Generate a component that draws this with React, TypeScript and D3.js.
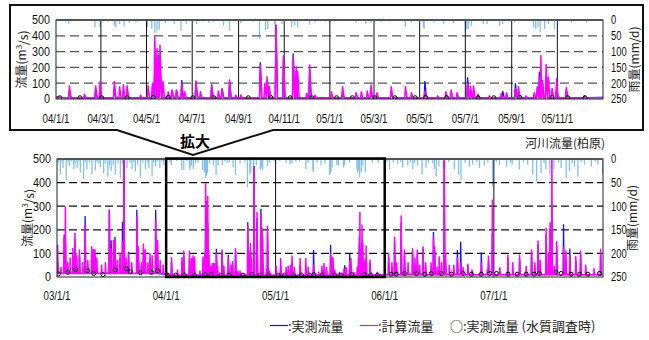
import React, { useEffect, useRef } from 'react';
import * as d3 from 'd3';

// 河川流量(柏原) 2003-2007, daily peaks
const years = [2003, 2004, 2005, 2006, 2007];
const baseFlow = [15, 7, 7, 10, 10];

const measuredFlow: [string, number][] = [
  ["2003-01-03", 60], ["2003-01-25", 180], ["2003-01-29", 150], ["2003-02-23", 90], ["2003-03-02", 160], ["2003-03-17", 100],
  ["2003-04-05", 258], ["2003-04-27", 110], ["2003-05-08", 100], ["2003-06-25", 285], ["2003-07-01", 156], ["2003-07-14", 170],
  ["2003-07-31", 80], ["2003-08-08", 234], ["2003-08-13", 510], ["2003-08-28", 107], ["2003-09-25", 285], ["2003-09-30", 110],
  ["2003-10-17", 100], ["2003-11-08", 80], ["2003-11-27", 285], ["2003-12-03", 140],
  ["2004-01-19", 60], ["2004-02-23", 67], ["2004-02-29", 90], ["2004-03-19", 80], ["2004-05-09", 90], ["2004-05-12", 215],
  ["2004-05-15", 257], ["2004-05-17", 280], ["2004-05-19", 230], ["2004-06-04", 57], ["2004-06-10", 57], ["2004-06-17", 120],
  ["2004-07-06", 110], ["2004-07-27", 93], ["2004-08-10", 67], ["2004-08-20", 110], ["2004-09-30", 232], ["2004-10-09", 120],
  ["2004-10-21", 470], ["2004-10-31", 250], ["2004-11-13", 288], ["2004-11-17", 180], ["2004-12-05", 190],
  ["2005-01-18", 50], ["2005-02-25", 60], ["2005-03-24", 50], ["2005-05-08", 114], ["2005-07-04", 137], ["2005-07-08", 60],
  ["2005-08-20", 50], ["2005-09-06", 100], ["2005-09-10", 50], ["2005-10-05", 50], ["2005-10-08", 172], ["2005-10-10", 120],
  ["2005-10-12", 120], ["2005-10-17", 150], ["2005-10-31", 80], ["2005-11-13", 60],
  ["2006-01-14", 80], ["2006-02-03", 150], ["2006-02-25", 230], ["2006-03-08", 100], ["2006-04-04", 110], ["2006-04-20", 100],
  ["2006-05-09", 120], ["2006-06-13", 191], ["2006-06-17", 110], ["2006-07-19", 491], ["2006-07-23", 90], ["2006-09-01", 114],
  ["2006-09-12", 149], ["2006-10-06", 50], ["2006-11-20", 104], ["2006-12-14", 70], ["2006-12-27", 185],
  ["2007-02-17", 80], ["2007-03-28", 80], ["2007-05-07", 100], ["2007-05-29", 140], ["2007-06-25", 180], ["2007-07-08", 200],
  ["2007-07-14", 300], ["2007-07-30", 130], ["2007-08-22", 224], ["2007-09-12", 121], ["2007-10-02", 70], ["2007-10-18", 95],
  ["2007-12-24", 100],
];

const calculatedFlow: [string, number][] = [
  ["2003-01-03", 135], ["2003-01-14", 40], ["2003-01-25", 165], ["2003-01-29", 297], ["2003-02-06", 60], ["2003-02-14", 80],
  ["2003-02-23", 121], ["2003-03-02", 185], ["2003-03-08", 90], ["2003-03-17", 114], ["2003-03-28", 60], ["2003-04-05", 220],
  ["2003-04-14", 70], ["2003-04-27", 128], ["2003-05-03", 117], ["2003-05-08", 115], ["2003-05-14", 80], ["2003-05-30", 50],
  ["2003-06-12", 60], ["2003-06-25", 283], ["2003-07-01", 120], ["2003-07-09", 156], ["2003-07-14", 150], ["2003-07-22", 70],
  ["2003-07-31", 100], ["2003-08-08", 150], ["2003-08-13", 505], ["2003-08-20", 80], ["2003-08-28", 100], ["2003-09-08", 60],
  ["2003-09-25", 255], ["2003-09-30", 128], ["2003-10-10", 60], ["2003-10-17", 139], ["2003-10-23", 115], ["2003-11-01", 60],
  ["2003-11-08", 100], ["2003-11-15", 90], ["2003-11-27", 240], ["2003-12-03", 156], ["2003-12-12", 70], ["2003-12-22", 50],
  ["2004-01-19", 82], ["2004-02-08", 30], ["2004-02-23", 82], ["2004-02-29", 110], ["2004-03-19", 110], ["2004-03-26", 78],
  ["2004-03-31", 90], ["2004-04-05", 84], ["2004-04-23", 25], ["2004-05-03", 84], ["2004-05-09", 100], ["2004-05-12", 394],
  ["2004-05-15", 320], ["2004-05-17", 257], ["2004-05-19", 341], ["2004-05-23", 110], ["2004-05-30", 46], ["2004-06-04", 57],
  ["2004-06-10", 57], ["2004-06-17", 100], ["2004-06-21", 46], ["2004-07-06", 114], ["2004-07-12", 46], ["2004-07-27", 80],
  ["2004-08-05", 50], ["2004-08-10", 60], ["2004-08-20", 120], ["2004-08-28", 25], ["2004-09-04", 25], ["2004-09-30", 215],
  ["2004-10-06", 100], ["2004-10-09", 141], ["2004-10-12", 80], ["2004-10-21", 467], ["2004-10-31", 274], ["2004-11-13", 267],
  ["2004-11-17", 204], ["2004-11-19", 172], ["2004-12-01", 35], ["2004-12-05", 215], ["2004-12-12", 25],
  ["2005-01-03", 46], ["2005-01-18", 78], ["2005-02-05", 40], ["2005-02-12", 46], ["2005-02-20", 50], ["2005-02-25", 88],
  ["2005-03-05", 40], ["2005-03-24", 78], ["2005-04-12", 78], ["2005-04-20", 40], ["2005-05-08", 50], ["2005-05-25", 20],
  ["2005-06-05", 46], ["2005-06-12", 57], ["2005-06-20", 40], ["2005-07-04", 100], ["2005-07-08", 80], ["2005-07-12", 82],
  ["2005-07-18", 30], ["2005-08-02", 20], ["2005-08-18", 34], ["2005-08-25", 40], ["2005-09-06", 67], ["2005-09-10", 78],
  ["2005-09-20", 20], ["2005-10-01", 40], ["2005-10-05", 78], ["2005-10-08", 140], ["2005-10-10", 274], ["2005-10-12", 110],
  ["2005-10-17", 219], ["2005-10-20", 140], ["2005-10-25", 67], ["2005-10-31", 130], ["2005-11-13", 72], ["2005-12-07", 20],
  ["2006-01-14", 100], ["2006-01-25", 60], ["2006-02-03", 168], ["2006-02-10", 60], ["2006-02-25", 258], ["2006-03-08", 114],
  ["2006-03-20", 60], ["2006-04-04", 120], ["2006-04-12", 80], ["2006-04-20", 114], ["2006-04-28", 50], ["2006-05-09", 128],
  ["2006-05-18", 60], ["2006-06-05", 60], ["2006-06-13", 170], ["2006-06-17", 128], ["2006-06-25", 40], ["2006-07-02", 86],
  ["2006-07-10", 60], ["2006-07-19", 494], ["2006-07-23", 100], ["2006-08-05", 50], ["2006-08-20", 50], ["2006-09-01", 80],
  ["2006-09-12", 60], ["2006-09-20", 40], ["2006-10-06", 54], ["2006-10-20", 30], ["2006-11-20", 60], ["2006-12-10", 30],
  ["2006-12-14", 88], ["2006-12-27", 325],
  ["2007-01-21", 40], ["2007-02-17", 93], ["2007-03-05", 60], ["2007-03-28", 93], ["2007-04-19", 45], ["2007-05-07", 114],
  ["2007-05-18", 60], ["2007-05-29", 153], ["2007-06-05", 70], ["2007-06-25", 206], ["2007-07-03", 100], ["2007-07-08", 230],
  ["2007-07-14", 505], ["2007-07-22", 44], ["2007-07-30", 149], ["2007-08-22", 125], ["2007-08-30", 110], ["2007-09-12", 90],
  ["2007-10-02", 86], ["2007-10-18", 110], ["2007-11-04", 50], ["2007-12-02", 35], ["2007-12-24", 118],
];

// 実測流量 (水質調査時)
const surveyFlow: [string, number][] = [
  ["2003-01-06", 13], ["2003-02-06", 20], ["2003-03-03", 32], ["2003-04-14", 27], ["2003-05-04", 15], ["2003-06-04", 10],
  ["2003-07-15", 30], ["2003-08-21", 36], ["2003-09-03", 22], ["2003-10-07", 18], ["2003-11-13", 20], ["2003-12-04", 27],
  ["2004-01-06", 8], ["2004-02-02", 8], ["2004-03-02", 8], ["2004-04-05", 8], ["2004-05-10", 10], ["2004-05-30", 10],
  ["2004-07-02", 8], ["2004-07-30", 8], ["2004-09-14", 8], ["2004-10-14", 10], ["2004-11-09", 8], ["2004-12-08", 8],
  ["2005-01-10", 8], ["2005-01-31", 8], ["2005-03-02", 8], ["2005-03-29", 8], ["2005-04-25", 8], ["2005-05-09", 10],
  ["2005-06-06", 8], ["2005-07-18", 8], ["2005-08-08", 8], ["2005-09-12", 10], ["2005-10-25", 10], ["2005-11-15", 8],
  ["2005-12-08", 8],
  ["2006-01-23", 12], ["2006-02-09", 12], ["2006-03-09", 15], ["2006-04-17", 15], ["2006-05-15", 12], ["2006-06-06", 15],
  ["2006-07-09", 15], ["2006-08-12", 12], ["2006-09-20", 15], ["2006-10-18", 12], ["2006-11-20", 12], ["2006-12-18", 15],
  ["2007-01-10", 15], ["2007-02-17", 12], ["2007-03-20", 12], ["2007-04-19", 12], ["2007-05-16", 12], ["2007-06-02", 15],
  ["2007-07-28", 20], ["2007-08-14", 15], ["2007-09-16", 12], ["2007-10-14", 12], ["2007-11-11", 12], ["2007-12-20", 15],
];

// 雨量 mm/d
const rainfall: [string, number][] = [
  ["2003-01-05", 8], ["2003-01-12", 33], ["2003-01-17", 5], ["2003-01-21", 19], ["2003-02-01", 45], ["2003-02-07", 6],
  ["2003-02-12", 15], ["2003-02-19", 5], ["2003-02-26", 22], ["2003-03-02", 10], ["2003-03-09", 19], ["2003-03-14", 6],
  ["2003-03-20", 28], ["2003-03-31", 42], ["2003-04-05", 7], ["2003-04-11", 22], ["2003-04-20", 8], ["2003-04-28", 33],
  ["2003-05-09", 24], ["2003-05-15", 6], ["2003-05-21", 9], ["2003-05-26", 17], ["2003-06-06", 30], ["2003-06-12", 10],
  ["2003-06-20", 37], ["2003-06-25", 14], ["2003-07-01", 26], ["2003-07-08", 12], ["2003-07-15", 33], ["2003-07-24", 9],
  ["2003-08-01", 40], ["2003-08-08", 10], ["2003-08-14", 30], ["2003-08-23", 19], ["2003-09-02", 8], ["2003-09-09", 22],
  ["2003-09-15", 6], ["2003-09-20", 26], ["2003-09-28", 12], ["2003-10-07", 40], ["2003-10-15", 8], ["2003-10-24", 22],
  ["2003-10-30", 6], ["2003-11-04", 19], ["2003-11-15", 37], ["2003-11-20", 7], ["2003-11-26", 15], ["2003-12-02", 6],
  ["2003-12-11", 19], ["2003-12-18", 5], ["2003-12-24", 12],
  ["2004-01-14", 7], ["2004-01-18", 13], ["2004-02-05", 4], ["2004-02-22", 23], ["2004-02-29", 23], ["2004-03-10", 5],
  ["2004-03-19", 18], ["2004-03-21", 23], ["2004-03-26", 13], ["2004-04-01", 21], ["2004-04-08", 10], ["2004-04-17", 8],
  ["2004-05-02", 23], ["2004-05-08", 28], ["2004-05-12", 40], ["2004-05-15", 35], ["2004-05-18", 30], ["2004-05-26", 10],
  ["2004-06-07", 13], ["2004-06-16", 34], ["2004-06-23", 13], ["2004-07-07", 13], ["2004-07-15", 5], ["2004-07-23", 8],
  ["2004-07-30", 7], ["2004-08-12", 18], ["2004-08-20", 34], ["2004-09-04", 10], ["2004-09-20", 6], ["2004-09-29", 60],
  ["2004-10-07", 32], ["2004-10-10", 28], ["2004-10-19", 13], ["2004-10-20", 45], ["2004-10-29", 13], ["2004-11-11", 23],
  ["2004-11-15", 18], ["2004-11-19", 23], ["2004-12-05", 15], ["2004-12-12", 8], ["2004-12-27", 5],
  ["2005-01-01", 8], ["2005-01-15", 4], ["2005-02-05", 8], ["2005-02-18", 12], ["2005-02-25", 10], ["2005-03-10", 6],
  ["2005-03-22", 5], ["2005-04-12", 21], ["2005-04-20", 8], ["2005-05-06", 23], ["2005-05-07", 28], ["2005-05-20", 8],
  ["2005-06-02", 13], ["2005-06-15", 10], ["2005-07-01", 34], ["2005-07-03", 30], ["2005-07-05", 28], ["2005-07-09", 18],
  ["2005-07-25", 13], ["2005-07-30", 13], ["2005-08-16", 18], ["2005-08-20", 13], ["2005-09-05", 8], ["2005-09-30", 23],
  ["2005-10-03", 28], ["2005-10-06", 23], ["2005-10-09", 39], ["2005-10-15", 28], ["2005-10-20", 13], ["2005-10-28", 28],
  ["2005-11-20", 8], ["2005-12-10", 8],
  ["2006-01-08", 6], ["2006-01-17", 22], ["2006-01-30", 8], ["2006-02-13", 10], ["2006-02-24", 6], ["2006-03-02", 18],
  ["2006-03-19", 14], ["2006-03-28", 7], ["2006-04-05", 22], ["2006-04-11", 9], ["2006-04-21", 14], ["2006-05-06", 33],
  ["2006-05-19", 18], ["2006-05-27", 8], ["2006-06-10", 9], ["2006-06-16", 21], ["2006-06-22", 37], ["2006-07-01", 16],
  ["2006-07-16", 19], ["2006-07-21", 22], ["2006-08-03", 7], ["2006-08-22", 22], ["2006-09-05", 33], ["2006-09-13", 44],
  ["2006-09-27", 8], ["2006-10-11", 16], ["2006-10-22", 12], ["2006-11-05", 7], ["2006-11-14", 19], ["2006-11-30", 14],
  ["2006-12-12", 8], ["2006-12-28", 58],
  ["2007-01-09", 6], ["2007-01-20", 12], ["2007-02-13", 16], ["2007-02-25", 8], ["2007-03-03", 12], ["2007-03-27", 22],
  ["2007-04-10", 7], ["2007-04-24", 12], ["2007-05-11", 33], ["2007-05-24", 47], ["2007-06-08", 30], ["2007-06-18", 9],
  ["2007-06-24", 22], ["2007-07-07", 33], ["2007-07-13", 20], ["2007-07-21", 22], ["2007-08-05", 8], ["2007-08-14", 19],
  ["2007-08-31", 40], ["2007-09-11", 26], ["2007-09-20", 8], ["2007-09-28", 16], ["2007-10-09", 37], ["2007-10-20", 7],
  ["2007-10-31", 12], ["2007-11-23", 16], ["2007-12-06", 6], ["2007-12-15", 12], ["2007-12-31", 33],
];

const flowTicks = [0, 100, 200, 300, 400, 500];
const rainTicks = [0, 50, 100, 150, 200, 250];

const FONT_NUM = "'Liberation Sans', Arial, sans-serif";
const FONT_JP = "'Noto Sans CJK JP', sans-serif";
const BLUE = '#1010ff';
const MAGENTA = '#ff00ff';
const RAIN = '#84bff2';

const parse = d3.timeParse('%Y-%m-%d');

function baseAt(t: Date) {
  const i = years.indexOf(t.getFullYear());
  return baseFlow[i < 0 ? baseFlow.length - 1 : i];
}

// peaks to a polyline that falls back to the base flow between events
function hydrograph(events: [string, number][]): [Date, number][] {
  const ev = events.map(([d, v]) => [parse(d) as Date, v] as [Date, number]).sort((a, b) => +a[0] - +b[0]);
  const first = new Date(2003, 0, 1);
  const pts: [Date, number][] = [[first, baseAt(first)]];
  ev.forEach(([t, v], i) => {
    const prev = ev[i - 1], next = ev[i + 1];
    if (!prev || d3.timeDay.count(prev[0], t) >= 2) {
      const b = d3.timeDay.offset(t, -1);
      pts.push([b, baseAt(b)]);
    }
    pts.push([t, v]);
    const gap = next ? d3.timeDay.count(t, next[0]) : 99;
    if (gap >= 2) {
      const a = d3.timeDay.offset(t, gap >= 3 ? 2 : 1);
      pts.push([a, baseAt(a)]);
    }
  });
  const last = new Date(2008, 0, 1);
  pts.push([last, baseAt(new Date(2007, 11, 31))]);
  return pts;
}

interface Panel {
  id: string;
  left: number; right: number; top: number; bottom: number;
  start: Date; end: Date;
  ticks: Date[];
  labelY: number;
  grid: string; dash: string;
  rainWidth: number;
  yLabelX: number; rLabelX: number;
}

function drawPanel(svg: any, p: Panel) {
  const x = d3.scaleTime().domain([p.start, p.end]).range([p.left, p.right]);
  const y = d3.scaleLinear().domain([0, 500]).range([p.bottom, p.top]);
  const yr = d3.scaleLinear().domain([0, 250]).range([p.top, p.bottom]);
  const g = svg.append('g');

  g.append('clipPath').attr('id', 'clip-' + p.id)
    .append('rect').attr('x', p.left).attr('y', p.top)
    .attr('width', p.right - p.left).attr('height', p.bottom - p.top);
  const plot = g.append('g').attr('clip-path', `url(#clip-${p.id})`);

  // rain hanging from the top
  plot.selectAll('rect.rain').data(rainfall).enter().append('rect')
    .attr('class', 'rain')
    .attr('x', (d: [string, number]) => x(parse(d[0]) as Date) - p.rainWidth / 2)
    .attr('y', p.top)
    .attr('width', p.rainWidth)
    .attr('height', (d: [string, number]) => yr(d[1]) - p.top)
    .attr('fill', RAIN);

  // dashed grid
  plot.selectAll('line.grid').data(flowTicks.slice(1, -1)).enter().append('line')
    .attr('x1', p.left).attr('x2', p.right)
    .attr('y1', (d: number) => y(d)).attr('y2', (d: number) => y(d))
    .attr('stroke', p.grid).attr('stroke-width', 1.3).attr('stroke-dasharray', p.dash);

  // month / year separators
  plot.selectAll('line.sep').data(p.ticks.slice(1)).enter().append('line')
    .attr('x1', (d: Date) => x(d)).attr('x2', (d: Date) => x(d))
    .attr('y1', p.top).attr('y2', p.bottom)
    .attr('stroke', '#111').attr('stroke-width', 1);

  const line = d3.line<[Date, number]>().x(d => x(d[0])).y(d => y(d[1]));
  plot.append('path').attr('d', line(hydrograph(measuredFlow)))
    .attr('fill', 'none').attr('stroke', BLUE).attr('stroke-width', 1.3);
  plot.append('path').attr('d', line(hydrograph(calculatedFlow)))
    .attr('fill', 'none').attr('stroke', MAGENTA).attr('stroke-width', 1.5).attr('stroke-linejoin', 'round');

  plot.selectAll('circle').data(surveyFlow).enter().append('circle')
    .attr('cx', (d: [string, number]) => x(parse(d[0]) as Date))
    .attr('cy', (d: [string, number]) => y(d[1]))
    .attr('r', 2).attr('fill', 'none').attr('stroke', '#000').attr('stroke-width', 1);

  // frame
  g.append('rect').attr('x', p.left).attr('y', p.top)
    .attr('width', p.right - p.left).attr('height', p.bottom - p.top)
    .attr('fill', 'none').attr('stroke', '#222').attr('stroke-width', 1);
  g.append('line').attr('x1', p.left).attr('x2', p.right).attr('y1', p.top).attr('y2', p.top)
    .attr('stroke', '#555').attr('stroke-width', 2);

  // axes
  const left = g.append('g').attr('transform', `translate(${p.left},0)`)
    .call(d3.axisLeft(y).tickValues(flowTicks).tickSize(0).tickPadding(6));
  const right = g.append('g').attr('transform', `translate(${p.right},0)`)
    .call(d3.axisRight(yr).tickValues(rainTicks).tickSize(0).tickPadding(8));
  [left, right].forEach(a => {
    a.select('.domain').remove();
    a.selectAll('text').attr('font-family', FONT_NUM).attr('font-size', 12).attr('fill', '#111')
      .attr('transform', 'scale(0.9,1)');
  });
  left.selectAll('text').attr('transform', null).attr('textLength', (d: number) => String(d).length * 6)
    .attr('lengthAdjust', 'spacingAndGlyphs');
  right.selectAll('text').attr('transform', null).attr('textLength', (d: number) => String(d).length * 5.2)
    .attr('lengthAdjust', 'spacingAndGlyphs');

  const fmt = d3.timeFormat('%y/%-m/%-d');
  g.selectAll('text.xt').data(p.ticks).enter().append('text')
    .attr('x', (d: Date) => x(d)).attr('y', p.labelY)
    .attr('text-anchor', 'middle')
    .attr('font-family', FONT_NUM).attr('font-size', 13).attr('fill', '#111')
    .attr('textLength', (d: Date) => fmt(d).length * 4.5)
    .attr('lengthAdjust', 'spacingAndGlyphs')
    .text((d: Date) => fmt(d));

  const cy = (p.top + p.bottom) / 2;
  const yl = g.append('text').attr('transform', `translate(${p.yLabelX},${cy}) rotate(-90)`)
    .attr('text-anchor', 'middle').attr('dy', '0.35em')
    .attr('font-family', FONT_JP).attr('font-size', 12).attr('fill', '#222');
  yl.append('tspan').text('流量(m');
  yl.append('tspan').attr('font-size', 8).attr('dy', '-0.5em').text('3');
  yl.append('tspan').attr('dy', '0.5em').text('/s)');
  g.append('text').attr('transform', `translate(${p.rLabelX},${cy}) rotate(-90)`)
    .attr('text-anchor', 'middle').attr('dy', '0.35em')
    .attr('font-family', FONT_JP).attr('font-size', 12).attr('fill', '#222')
    .text('雨量(mm/d)');

  return x;
}

function draw(svg: any) {
  svg.append('rect').attr('width', 649).attr('height', 340).attr('fill', '#fff');

  // callout box around the enlarged panel
  svg.append('path')
    .attr('d', 'M10,5 H643 V130 H273 L193,155 L117,130 H10 Z')
    .attr('fill', 'none').attr('stroke', '#111').attr('stroke-width', 2);
  svg.append('text').attr('x', 195).attr('y', 147).attr('text-anchor', 'middle')
    .attr('font-family', FONT_JP).attr('font-size', 15).attr('font-weight', 'bold')
    .text('拡大');

  const t0 = new Date(2004, 0, 1), t1 = new Date(2006, 0, 1);
  drawPanel(svg, {
    id: 'top', left: 56, right: 603, top: 20, bottom: 99,
    start: t0, end: t1,
    ticks: d3.timeMonth.every(2)!.range(t0, t1),
    labelY: 123, grid: '#555', dash: '9,5', rainWidth: 1.3,
    yLabelX: 22, rLabelX: 635,
  });

  const b0 = new Date(2003, 0, 1), b1 = new Date(2008, 0, 1);
  const xb = drawPanel(svg, {
    id: 'bottom', left: 57, right: 603, top: 159, bottom: 277,
    start: b0, end: b1,
    ticks: d3.timeYear.range(b0, b1),
    labelY: 300, grid: '#111', dash: '8,4', rainWidth: 1.3,
    yLabelX: 28, rLabelX: 633,
  });

  // enlarged range marker
  svg.append('rect')
    .attr('x', xb(t0)).attr('y', 158.5)
    .attr('width', xb(t1) - xb(t0)).attr('height', 277 - 158.5)
    .attr('fill', 'none').attr('stroke', '#000').attr('stroke-width', 2.5);

  svg.append('text').attr('x', 605).attr('y', 148).attr('text-anchor', 'end')
    .attr('font-family', FONT_JP).attr('font-size', 12).attr('fill', '#222')
    .text('河川流量(柏原)');

  // legend
  const lg = svg.append('g').attr('font-family', FONT_JP).attr('font-size', 13).attr('fill', '#222');
  lg.append('line').attr('x1', 270).attr('x2', 288).attr('y1', 325.5).attr('y2', 325.5)
    .attr('stroke', BLUE).attr('stroke-width', 1.2);
  lg.append('text').attr('x', 288).attr('y', 331).text(':実測流量');
  lg.append('line').attr('x1', 360).attr('x2', 378).attr('y1', 325.5).attr('y2', 325.5)
    .attr('stroke', MAGENTA).attr('stroke-width', 1.2);
  lg.append('text').attr('x', 378).attr('y', 331).text(':計算流量');
  lg.append('text').attr('x', 450).attr('y', 331).text('○:実測流量 (水質調査時)');
}

export default function App() {
  const ref = useRef<SVGSVGElement>(null);
  useEffect(() => {
    const svg = d3.select(ref.current);
    svg.selectAll('*').remove();
    draw(svg);
  }, []);
  return (
    <svg ref={ref} width={649} height={340}
      style={{ position: 'absolute', left: 0, top: 0, background: '#fff' }} />
  );
}
